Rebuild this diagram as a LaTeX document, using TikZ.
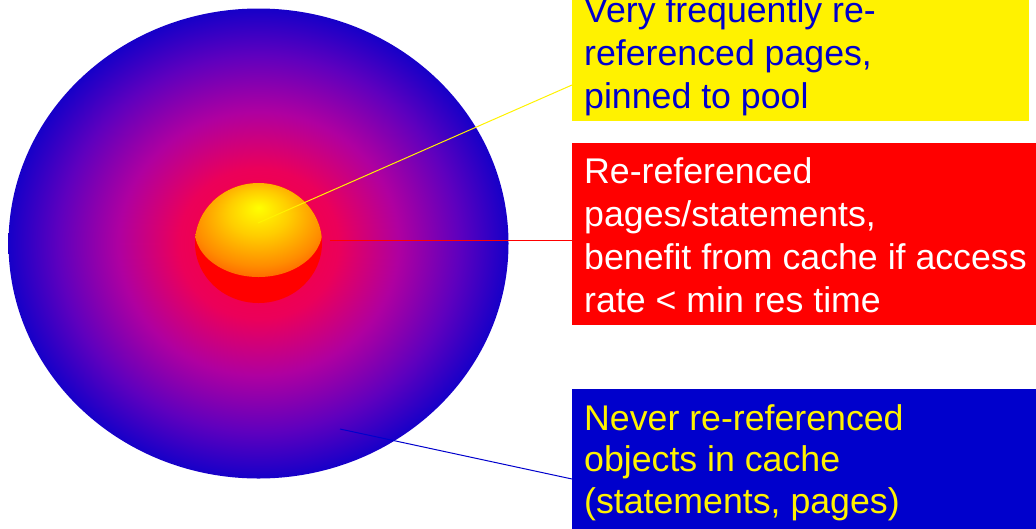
\documentclass[tikz,border=0pt]{standalone}
\usepackage{fontspec}
\setmainfont{Liberation Sans}
\usepackage{tikz}
\usetikzlibrary{positioning,calc}

\definecolor{cacheblue}{RGB}{0,0,204}
\definecolor{rimblue}{RGB}{22,0,200}
\definecolor{poolpink}{RGB}{235,0,90}
\definecolor{poolmid}{RGB}{175,0,160}
\definecolor{poolviolet}{RGB}{95,0,190}
\definecolor{corered}{RGB}{255,0,50}
\definecolor{pinyellow}{RGB}{255,255,0}
\definecolor{pinamber}{RGB}{255,205,0}
\definecolor{pinorange}{RGB}{255,140,0}
\definecolor{pinred}{RGB}{255,60,0}
\definecolor{pinfull}{RGB}{255,0,0}

\pgfdeclareradialshading{poolshade}{\pgfpoint{0bp}{0bp}}{%
  color(0bp)=(corered); color(8bp)=(poolpink); color(14bp)=(poolmid);
  color(20bp)=(poolviolet); color(25bp)=(rimblue); color(50bp)=(rimblue)}
\pgfdeclareradialshading{pinshade}{\pgfpoint{0bp}{12bp}}{%
  color(0bp)=(pinyellow); color(12bp)=(pinamber); color(25bp)=(pinorange);
  color(37bp)=(pinred); color(50bp)=(pinfull)}

\begin{document}
\begin{tikzpicture}[
  x=1pt, y=-1pt,
  labelbox/.style={rectangle, inner sep=0pt, draw=none},
  labeltext/.style={anchor=base west, align=left, inner sep=0pt, font=\fontsize{35.7}{43}\selectfont},
  leader/.style={line width=1pt}
  ]
  \useasboundingbox (0,0) rectangle (1036,528);
  \clip (0,0) rectangle (1036,528);

  % buffer pool and pinned pages
  \shade[shading=poolshade] (258.5,243.5) ellipse [x radius=250pt, y radius=235pt];
  \fill[pinfull] (258.5,243) ellipse [x radius=63.5pt, y radius=60pt];
  \begin{scope}
    \clip (258.5,243) ellipse [x radius=63.5pt, y radius=60pt];
    \shade[shading=pinshade] (258.5,230) ellipse [x radius=64pt, y radius=47pt];
  \end{scope}

  % label boxes
  \node[labelbox, fill=yellow, minimum width=457pt, minimum height=160pt, anchor=south west] (yelbox) at (572,121) {};
  \node[labelbox, fill=red, minimum width=480pt, minimum height=182pt, anchor=north west] (redbox) at (572,143) {};
  \node[labelbox, fill=cacheblue, minimum width=480pt, minimum height=150pt, anchor=north west] (blubox) at (572,389) {};

  % base = last line
  \node[labeltext, text=cacheblue] (yeltxt) at ([xshift=12pt,yshift=13pt]yelbox.south west) {Very frequently re-\\referenced pages,\\pinned to pool};
  \node[labeltext, text=white] (redtxt) at ([xshift=12pt,yshift=-169pt]redbox.north west) {Re-referenced\\pages/statements,\\benefit from cache if access\\rate < min res time};
  \node[labeltext, text=yellow, font=\fontsize{35.7}{41.5}\selectfont] (blutxt) at ([xshift=12pt,yshift=-124pt]blubox.north west) {Never re-referenced\\objects in cache\\(statements, pages)};

  % leader lines
  \coordinate (pinpt) at (258,223);
  \coordinate (refpt) at (330,240);
  \coordinate (newpt) at (340,429);
  \draw[leader, yellow] (pinpt) -- ([yshift=36pt]yelbox.south west);
  \draw[leader, red] (refpt) -- ([yshift=-97pt]redbox.north west);
  \draw[leader, cacheblue] (newpt) -- ([yshift=-90pt]blubox.north west);
\end{tikzpicture}
\end{document}
